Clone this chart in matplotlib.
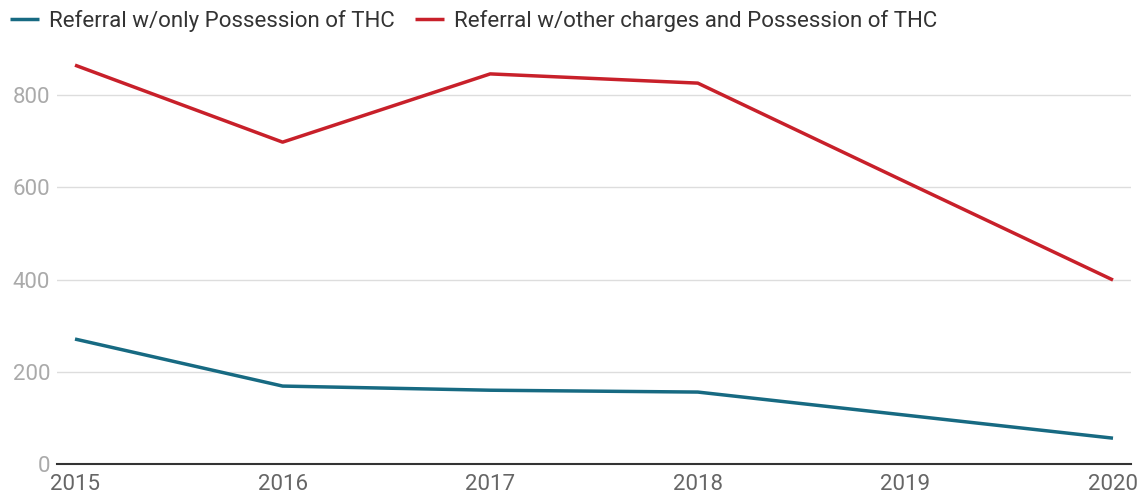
import matplotlib
matplotlib.use("Agg")
import matplotlib.pyplot as plt

years = [2015, 2016, 2017, 2018, 2019, 2020]
only_thc = [271, 169, 160, 156, 106, 56]
other_thc = [865, 698, 846, 826, 612, 399]
labels = ["Referral w/only Possession of THC", "Referral w/other charges and Possession of THC"]
yticks = [0, 200, 400, 600, 800]

plt.rcParams['font.family'] = ['Roboto', 'DejaVu Sans']

fig = plt.figure(figsize=(11.41, 5.0), dpi=100)
ax = fig.add_axes([57/1141, 1-464/500, (1131-57)/1141, (464-49)/500])

ax.plot(years, only_thc, color='#176a82', lw=2.5, label=labels[0], solid_capstyle='butt', zorder=3)
ax.plot(years, other_thc, color='#c8202a', lw=2.5, label=labels[1], solid_capstyle='butt', zorder=3)

ax.set_xlim(2015 - 18/207.6, 2020 + 18/207.6)
ax.set_ylim(0, 900)
ax.set_yticks(yticks)
ax.set_xticks(years)
ax.set_xticklabels([str(y) for y in years])
for s in ['top', 'right', 'left']:
    ax.spines[s].set_visible(False)
ax.spines['bottom'].set_color('#333333')
ax.spines['bottom'].set_linewidth(1.5)
ax.grid(axis='y', color='#dddddd', lw=1)
ax.set_axisbelow(True)
ax.tick_params(axis='y', length=0, labelsize=16, labelcolor='#aaaaaa', pad=5)
ax.tick_params(axis='x', length=0, labelsize=16, labelcolor='#666666', pad=7)

fig.legend(loc='upper left', bbox_to_anchor=(0.0, 1.0), ncol=2, frameon=False,
           fontsize=16, handlelength=1.3, handletextpad=0.45, columnspacing=0.9,
           labelcolor='#333333', borderaxespad=0.05)

fig.savefig('out.png', dpi=100)
